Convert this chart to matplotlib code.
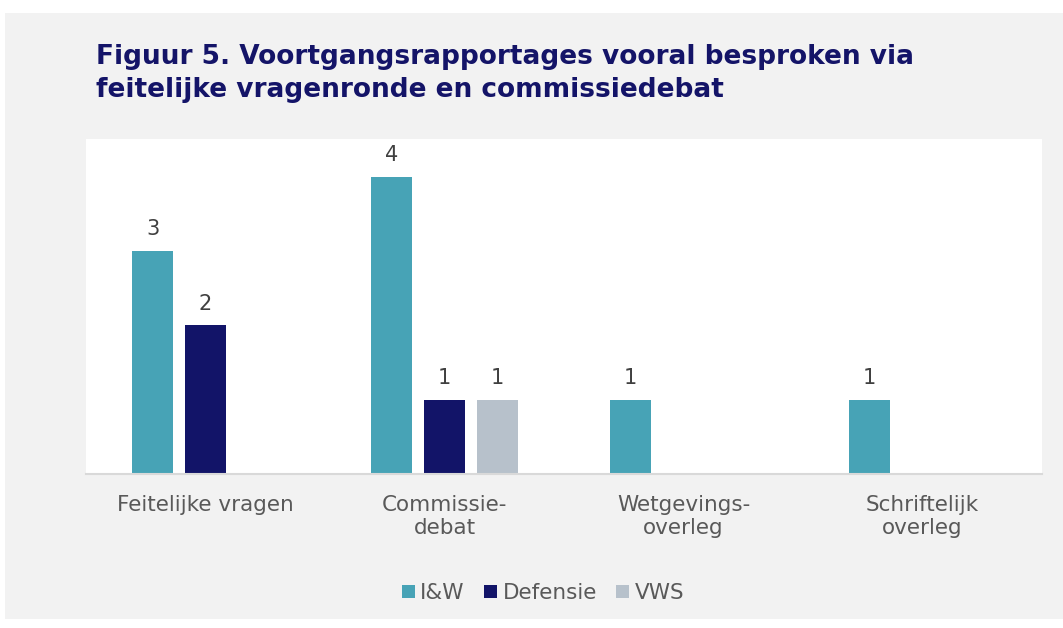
import matplotlib
matplotlib.use("Agg")
import matplotlib.pyplot as plt
from matplotlib.patches import Rectangle, Patch
import numpy as np

categories = ["Feitelijke vragen", "Commissie-\ndebat", "Wetgevings-\noverleg", "Schriftelijk\noverleg"]
series_names = ["I&W", "Defensie", "VWS"]
iw_values = [3, 4, 1, 1]
defensie_values = [2, 1, 0, 0]
vws_values = [0, 1, 0, 0]
title = "Figuur 5. Voortgangsrapportages vooral besproken via\nfeitelijke vragenronde en commissiedebat"

colors = ["#47a3b6", "#121468", "#b7c1cb"]
W, H = 1063, 628
fig = plt.figure(figsize=(W / 100, H / 100), dpi=100)
fig.patch.set_facecolor("white")
fig.patches.append(Rectangle((5 / W, (H - 619) / H), (W - 5) / W, (619 - 13) / H,
                             transform=fig.transFigure, facecolor="#f2f2f2",
                             edgecolor="none", zorder=-10))

ax = fig.add_axes([86 / W, (H - 474) / H, 956 / W, 335 / H])
ax.set_facecolor("white")

x = np.arange(len(categories))
width = 41 / 239
step = 53 / 239
all_vals = [iw_values, defensie_values, vws_values]
for i, (name, vals, c) in enumerate(zip(series_names, all_vals, colors)):
    pos = x + (i - 1) * step
    bars = ax.bar(pos, vals, width=width, color=c, label=name, zorder=2)
    for b, v in zip(bars, vals):
        if v > 0:
            ax.text(b.get_x() + b.get_width() / 2, v + 0.16, str(v), ha="center",
                    va="bottom", fontsize=15, color="#404040")

ax.set_xlim(-0.5, 3.5)
ax.set_ylim(0, 335 / 74.3)
ax.set_yticks([])
ax.set_xticks(x)
ax.set_xticklabels(categories, fontsize=15.5, color="#595959", linespacing=1.2)
ax.tick_params(axis="x", length=0, pad=15)
for s in ["top", "right", "left"]:
    ax.spines[s].set_visible(False)
ax.spines["bottom"].set_color("#d9d9d9")
ax.spines["bottom"].set_linewidth(1.5)

fig.text(96 / W, 1 - 44 / H, title, fontsize=19, fontweight="bold", color="#141468",
         ha="left", va="top", linespacing=1.33)

handles = [Patch(facecolor=c, edgecolor="none") for c in colors]
fig.legend(handles, series_names, loc="center", bbox_to_anchor=(543 / W, 1 - 593 / H),
           ncol=3, frameon=False, fontsize=15.5, labelcolor="#595959",
           handlelength=0.6, handleheight=0.6, handletextpad=0.25, columnspacing=0.9)

fig.savefig("out.png", dpi=100, facecolor=fig.get_facecolor())
